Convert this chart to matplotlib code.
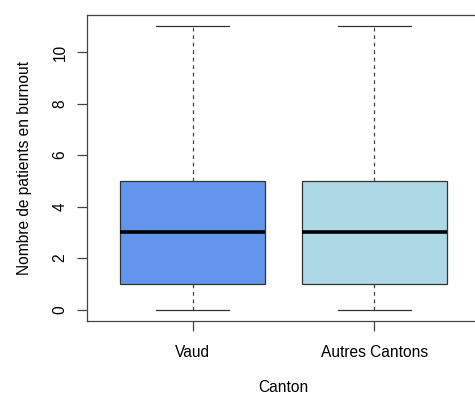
import matplotlib
matplotlib.use('Agg')
import matplotlib.pyplot as plt

plt.rcParams['font.family'] = ['Liberation Sans', 'DejaVu Sans']

cantons = ['Vaud', 'Autres Cantons']
whislo = [0, 0]
q1 = [1, 1]
med = [3, 3]
q3 = [5, 5]
whishi = [11, 11]
colors = ['#6495ED', '#ADD8E6']

stats = []
for i in range(len(cantons)):
    stats.append(dict(label=cantons[i], whislo=whislo[i], q1=q1[i], med=med[i],
                      q3=q3[i], whishi=whishi[i], fliers=[]))

fig = plt.figure(figsize=(4.75, 3.96), dpi=100)
# axes runs past the right edge, like the original crop
ax = fig.add_axes([87/475, 1 - 321/396, (480 - 87)/475, (321 - 15)/396])

bp = ax.bxp(stats, positions=[1, 2], widths=0.8, patch_artist=True,
            boxprops=dict(linewidth=0.9, edgecolor='#333333'),
            medianprops=dict(color='black', linewidth=2.6),
            whiskerprops=dict(color='#444444', linewidth=0.9, linestyle=(0, (3, 3))),
            capprops=dict(color='#333333', linewidth=0.9),
            capwidths=0.4)
for patch, c in zip(bp['boxes'], colors):
    patch.set_facecolor(c)

ax.set_xlim(0.42, 2.58)
ax.set_ylim(-0.44, 11.44)
ax.set_yticks([0, 2, 4, 6, 8, 10])
ax.set_yticklabels(['0', '2', '4', '6', '8', '10'], rotation=90, va='center')
ax.set_xticks([1, 2])
ax.set_xticklabels(cantons)
ax.tick_params(axis='both', labelsize=11.2, length=7, width=0.9, color='#444444', pad=7)
ax.tick_params(axis='x', pad=10)
for s in ax.spines.values():
    s.set_color('#444444')
    s.set_linewidth(0.9)

ax.set_xlabel('Canton', fontsize=11.2, labelpad=15)
ax.set_ylabel('Nombre de patients en burnout', fontsize=11.2, labelpad=15)

fig.savefig('out.png', dpi=100)
